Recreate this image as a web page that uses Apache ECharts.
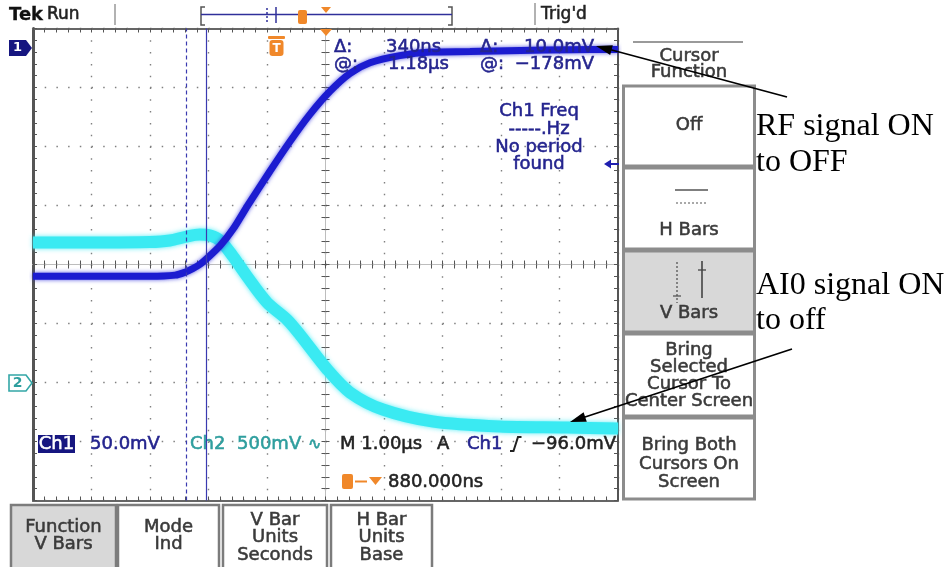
<!DOCTYPE html>
<html>
<head>
<meta charset="utf-8">
<title>Scope capture</title>
<script src="https://cdn.jsdelivr.net/npm/echarts@6/dist/echarts.min.js"></script>
<style>
html,body{margin:0;padding:0;background:#ffffff;}
#chart{width:952px;height:567px;}
</style>
</head>
<body>
<div id="chart"></div>
<script>
// Ch1 (RF detector, 50 mV/div): time in µs, value in mV
const ch1Time = [-5.0,-4.0,-3.0,-2.57,-2.40,-2.27,-2.15,-2.03,-1.80,-1.58,-1.33,-0.95,-0.61,-0.27,0.08,0.42,0.76,1.27,1.79,2.47,3.33,4.18,5.0];
const ch1Mv   = [-194,-194,-194,-193,-190.5,-187.5,-184,-179,-168,-154,-134,-105,-80,-57,-37,-22,-13,-7,-4,-3.5,-2.6,-2.0,-1.8];
// Ch2 (AI0, 500 mV/div): time in µs, value in mV
const ch2Time = [-5.0,-4.0,-3.0,-2.66,-2.37,-2.15,-1.97,-1.80,-1.58,-1.34,-1.00,-0.66,-0.44,0.03,0.42,0.98,1.84,2.98,4.13,5.0];
const ch2Mv   = [1186,1186,1190,1203,1237,1254,1246,1203,1068,898,678,534,407,110,-85,-229,-331,-373,-381,-390];
// V-bar cursor positions (µs)
const cursorTimes = [-2.38, -2.04];
// Graticule: 10 x 8 divisions at 1 µs/div
const timeRange = [-5, 5];
const divRange = [-4, 4];
// Vertical windows of each channel (mV) on the screen
const ch1Range = [-384, 16];
const ch2Range = [-1000, 3000];

const SANS = '"DejaVu Sans", sans-serif';
const SERIF = '"Liberation Serif", "Times New Roman", serif';
const NAVY = '#24248e';
const TEAL = '#2e9e9e';
const ORANGE = '#f0882a';
const MENU = '#3a3a3a';

const chart = echarts.init(document.getElementById('chart'), null, {renderer: 'canvas'});
const rect = {left: 33, top: 28.5, width: 585, height: 472};
const tickStyle = {color: '#555', width: 1};

function g(i) { return Object.assign({show: false}, rect); }
function frameX(pos, split) {
  return {gridIndex: 0, type: 'value', min: timeRange[0], max: timeRange[1], interval: 1, position: pos,
    axisLine: {show: true, onZero: false, lineStyle: {color: '#666', width: 2}},
    axisTick: {show: true, inside: true, length: 4, lineStyle: tickStyle},
    minorTick: {show: true, splitNumber: 5, length: 4, lineStyle: tickStyle},
    axisLabel: {show: false},
    splitLine: {show: split, lineStyle: {color: '#808080', width: 1.4, type: [1.5, 10.3]}}};
}
function frameY(pos, split, w) {
  return {gridIndex: 0, type: 'value', min: divRange[0], max: divRange[1], interval: 1, position: pos,
    axisLine: {show: true, onZero: false, lineStyle: {color: '#555', width: w}},
    axisTick: {show: true, inside: true, length: 4, lineStyle: tickStyle},
    minorTick: {show: true, splitNumber: 5, length: 4, lineStyle: tickStyle},
    axisLabel: {show: false},
    splitLine: {show: split, lineStyle: {color: '#808080', width: 1.4, type: [1.5, 10.2]}}};
}
function centerX(gi, inside) {
  return {gridIndex: gi, type: 'value', min: timeRange[0], max: timeRange[1], interval: 1, position: 'bottom',
    axisLine: {show: true, onZero: true, lineStyle: {color: '#bdbdbd', width: 1}},
    axisTick: {show: true, inside: inside, length: 4, lineStyle: tickStyle},
    minorTick: {show: true, splitNumber: 5, length: 4, lineStyle: tickStyle},
    axisLabel: {show: false}, splitLine: {show: false}};
}
function centerY(gi, inside) {
  return {gridIndex: gi, type: 'value', min: divRange[0], max: divRange[1], interval: 1, position: 'left',
    axisLine: {show: true, onZero: true, lineStyle: {color: '#bdbdbd', width: 1}},
    axisTick: {show: true, inside: inside, length: 4, lineStyle: tickStyle},
    minorTick: {show: true, splitNumber: 5, length: 4, lineStyle: tickStyle},
    axisLabel: {show: false}, splitLine: {show: false}};
}
function hiddenX(gi) { return {gridIndex: gi, type: 'value', min: timeRange[0], max: timeRange[1], show: false}; }
function hiddenY(gi, r) { return {gridIndex: gi, type: 'value', min: r[0], max: r[1], show: false}; }

// ---------- screen furniture (text / panels) ----------
const G = [];
function T(x, y, s, o) {
  o = o || {};
  const fill = o.fill || '#222';
  G.push({type: 'text', z: o.z || 5, silent: true, style: {
    text: s, x: x, y: y, fill: fill, font: o.font || ('18px ' + SANS),
    stroke: o.thin ? null : fill, lineWidth: o.thin ? 0 : (o.sw || 0.55),
    align: o.align || 'left', textAlign: o.align || 'left',
    verticalAlign: 'middle', textVerticalAlign: 'middle'}});
}
function L(x1, y1, x2, y2, c, w, dash, z) {
  G.push({type: 'line', z: z || 5, silent: true, shape: {x1: x1, y1: y1, x2: x2, y2: y2},
    style: {stroke: c, lineWidth: w, lineDash: dash || null}});
}
function P(points, fill, stroke, w, z) {
  G.push({type: 'polygon', z: z || 5, silent: true, shape: {points: points},
    style: {fill: fill, stroke: stroke || null, lineWidth: w || 0}});
}
function PL(points, c, w, z) {
  G.push({type: 'polyline', z: z || 5, silent: true, shape: {points: points}, style: {stroke: c, lineWidth: w, fill: null}});
}
function R(x, y, w, h, fill, stroke, lw, r, z) {
  G.push({type: 'rect', z: z || 1, silent: true, shape: {x: x, y: y, width: w, height: h, r: r || 0},
    style: {fill: fill, stroke: stroke || null, lineWidth: lw || 0}});
}

// header
T(9, 15, 'Tek', {font: 'bold 18px ' + SANS, fill: '#111', sw: 0.3});
T(47, 15, 'Run', {font: '17px ' + SANS, fill: '#222'});
L(115, 4, 115, 25, '#999', 1.5);
PL([[205, 7], [201, 7], [201, 25], [205, 25]], '#555', 1.5);
PL([[448, 7], [452, 7], [452, 25], [448, 25]], '#555', 1.5);
L(201, 14.5, 452, 14.5, '#30309a', 1.5);
L(267, 8, 267, 22, '#30309a', 1.5, [2, 2]);
L(276, 7, 276, 23, '#30309a', 1.5);
R(298, 10, 9, 14, ORANGE, null, 0, 2, 6);
P([[321, 7], [331, 7], [326, 13]], ORANGE);
L(535, 3, 535, 25, '#999', 1.5);
T(541, 15, "Trig'd", {font: '17px ' + SANS, fill: '#222'});

// graticule markers
P([[320, 29], [332, 29], [326, 36]], ORANGE, null, 0, 6);
R(268, 36, 17, 3, ORANGE, null, 0, 1, 6);
R(269.5, 40, 14, 16, ORANGE, null, 0, 3, 6);
T(276.5, 48.5, 'T', {font: 'bold 12px ' + SANS, fill: '#fff', align: 'center', z: 7, thin: true});
P([[9, 40], [26, 40], [32, 48], [26, 56], [9, 56]], '#161680', null, 0, 6);
T(17.5, 48, '1', {font: 'bold 13px ' + SANS, fill: '#fff', align: 'center', z: 7, thin: true});
P([[9, 375], [26, 375], [32, 383], [26, 391], [9, 391]], '#ffffff', '#33a7a7', 1.6, 6);
T(17.5, 383.5, '2', {font: 'bold 14px ' + SANS, fill: TEAL, align: 'center', z: 7, thin: true});
// Ch1 trigger level arrow
L(607, 164, 619, 164, '#1f1fb0', 2, null, 6);
P([[604, 164], [611, 159.5], [611, 168.5]], '#1f1fb0', null, 0, 6);

// cursor readouts
T(334, 47, 'Δ:', {fill: NAVY});
T(386, 47, '340ns', {fill: NAVY});
T(480, 47, 'Δ:', {fill: NAVY});
T(594, 47, '10.0mV', {fill: NAVY, align: 'right'});
T(334, 64, '@:', {fill: NAVY});
T(388, 64, '1.18µs', {fill: NAVY});
T(480, 64, '@:', {fill: NAVY});
T(594, 64, '−178mV', {fill: NAVY, align: 'right'});
// measurement block
T(539, 111, 'Ch1 Freq', {fill: NAVY, align: 'center'});
T(539, 129, '-----.Hz', {fill: NAVY, align: 'center'});
T(539, 147, 'No period', {fill: NAVY, align: 'center'});
T(539, 164, 'found', {fill: NAVY, align: 'center'});

// bottom status
R(38, 435, 37, 18, '#161680', null, 0, 0, 4);
T(56.5, 444, 'Ch1', {fill: '#fff', align: 'center', z: 6});
T(90, 444, '50.0mV', {fill: NAVY});
T(190, 444, 'Ch2', {fill: TEAL});
T(237, 444, '500mV', {fill: TEAL});
T(308, 445, '∿', {fill: TEAL, font: '16px ' + SANS});
T(340, 444, 'M 1.00µs', {fill: '#222'});
T(437, 444, 'A', {fill: '#222'});
T(467, 444, 'Ch1', {fill: NAVY});
PL([[510, 451], [513.5, 451], [518, 437], [521.5, 437]], '#222', 2);
T(616, 444, '−96.0mV', {fill: '#222', align: 'right'});
R(342, 474, 11, 15, ORANGE, null, 0, 2, 6);
L(355, 481.5, 367, 481.5, ORANGE, 2, null, 6);
P([[369, 477], [382, 477], [375.5, 485]], ORANGE, null, 0, 6);
T(388, 482, '880.000ns', {fill: '#222'});

// right side menu
L(633, 42, 743, 42, '#9a9a9a', 2);
T(689, 56, 'Cursor', {fill: MENU, align: 'center'});
T(689, 72, 'Function', {fill: MENU, align: 'center'});
const boxes = [[85, 167, '#ffffff'], [167, 250, '#ffffff'], [250, 333, '#d8d8d8'], [333, 417, '#ffffff'], [417, 500, '#ffffff']];
boxes.forEach(function (b) { R(623.5, b[0] + 1, 131, b[1] - b[0] - 2, b[2], '#8c8c8c', 3, 0, 2); });
T(689, 125, 'Off', {fill: MENU, align: 'center'});
L(675, 190, 708, 190, '#555', 1.5);
L(676, 203, 708, 203, '#555', 1.2, [2, 2]);
T(689, 230, 'H Bars', {fill: MENU, align: 'center'});
L(677, 262, 677, 303, '#555', 1.3, [2, 2]);
L(673, 296, 681, 296, '#555', 1.3);
L(702, 261, 702, 298, '#444', 1.6);
L(698, 270, 706, 270, '#444', 1.3);
T(689, 313, 'V Bars', {fill: MENU, align: 'center'});
T(689, 350, 'Bring', {fill: MENU, align: 'center'});
T(689, 367, 'Selected', {fill: MENU, align: 'center'});
T(689, 384, 'Cursor To', {fill: MENU, align: 'center'});
T(689, 401, 'Center Screen', {fill: MENU, align: 'center'});
T(689, 445, 'Bring Both', {fill: MENU, align: 'center'});
T(689, 464, 'Cursors On', {fill: MENU, align: 'center'});
T(689, 482, 'Screen', {fill: MENU, align: 'center'});

// bottom soft keys
const keys = [[10, 117, '#d8d8d8', ['Function', 'V Bars']], [117, 220, '#ffffff', ['Mode', 'Ind']],
  [222, 328, '#ffffff', ['V Bar', 'Units', 'Seconds']], [330, 433, '#ffffff', ['H Bar', 'Units', 'Base']]];
keys.forEach(function (k) {
  R(k[0] + 1, 505, k[1] - k[0] - 2, 70, k[2], '#7c7c7c', 2.5, 0, 2);
  const cx = (k[0] + k[1]) / 2;
  const lines = k[3];
  const y0 = lines.length === 2 ? 527 : 520;
  lines.forEach(function (s, i) { T(cx, y0 + i * 17.5, s, {fill: MENU, align: 'center'}); });
});

// annotations
const ann = {font: '32px ' + SERIF, fill: '#000', z: 10, thin: true};
T(756, 127, 'RF signal ON', ann);
T(756, 163, 'to OFF', ann);
T(756, 286, 'AI0 signal ON', ann);
T(756, 321, 'to off', ann);
L(787, 97, 608, 49, '#000', 1.8, null, 10);
P([[596, 46], [610.2, 54.9], [612.8, 45.3]], '#000', null, 0, 10);
L(792, 349, 582, 418, '#000', 1.8, null, 10);
P([[570, 422], [586.8, 421.8], [583.6, 412.3]], '#000', null, 0, 10);

function pairs(xs, ys) { return xs.map(function (x, i) { return [x, ys[i]]; }); }

chart.setOption({
  animation: false,
  backgroundColor: '#ffffff',
  grid: [g(0), g(1), g(2), g(3), g(4)],
  xAxis: [frameX('bottom', true), frameX('top', false), centerX(1, true), centerX(2, false), hiddenX(3), hiddenX(4)],
  yAxis: [frameY('left', true, 3), frameY('right', false, 2), centerY(1, true), centerY(2, false), hiddenY(3, ch2Range), hiddenY(4, ch1Range)],
  graphic: {elements: G},
  series: [
    {name: 'Ch2', type: 'line', xAxisIndex: 4, yAxisIndex: 4, z: 3, silent: true,
      data: pairs(ch2Time, ch2Mv), smooth: 0.3, showSymbol: false,
      lineStyle: {color: '#3aeaf2', width: 12, shadowBlur: 5, shadowColor: 'rgba(70,235,245,0.9)'}},
    {name: 'Ch1', type: 'line', xAxisIndex: 5, yAxisIndex: 5, z: 4, silent: true,
      data: pairs(ch1Time, ch1Mv), smooth: 0.3, showSymbol: false,
      lineStyle: {color: '#1c1cd0', width: 7, shadowBlur: 4, shadowColor: 'rgba(40,40,220,0.8)'},
      markLine: {silent: true, symbol: ['none', 'none'], label: {show: false}, animation: false,
        data: [
          {xAxis: cursorTimes[0], lineStyle: {type: [4, 3], color: '#3a3ab0', width: 1.2}},
          {xAxis: cursorTimes[1], lineStyle: {type: 'solid', color: '#3a3ab0', width: 1.2}}
        ]}}
  ]
});
</script>
</body>
</html>
